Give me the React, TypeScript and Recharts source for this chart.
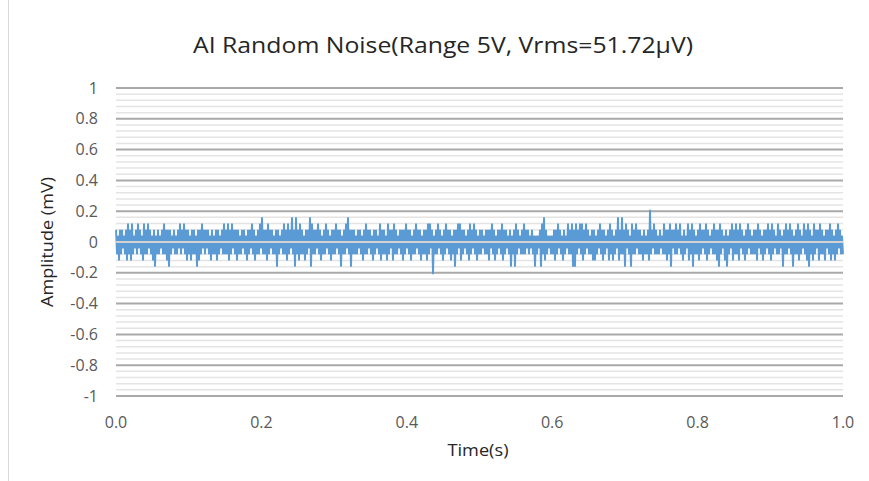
import React from 'react';
import { LineChart, Line, XAxis, YAxis, CartesianGrid, ReferenceLine } from 'recharts';

const FONT = '"Open Sans", "Noto Sans", sans-serif';

// Amplitude samples (mV) left to right
const noiseA = [
  .08,-.08,.04,-.12,.08,-.08,.08,-.04,.04,-.08,.08,-.12,.12,-.08,.08,-.12,
  .12,-.08,.04,-.04,.08,-.08,.12,-.04,.08,-.08,.04,-.12,.12,-.08,.08,-.08,
  .12,-.04,.08,-.08,.04,-.12,.08,-.16,.04,-.08,.08,-.08,.04,-.04,.08,-.08,
  .12,-.08,.08,-.12,.08,-.16,.08,-.08,.04,-.04,.08,-.08,.04,-.08,.08,-.04,
  .12,-.08,.08,-.04,.12,-.08,.08,-.12,.08,-.08,.04,-.12,.08,-.08,.08,-.08,
  .04,-.16,.08,-.12,.08,-.08,.12,-.04,.08,-.08,.08,-.04,.08,-.08,.04,-.12,
  .08,-.08,.04,-.08,.08,-.12,.08,-.08,.04,-.04,.08,-.08,.12,-.08,.08,-.08,
  .12,-.12,.08,-.08,.12,-.04,.08,-.08,.08,-.12,.08,-.08,.04,-.08,.08,-.04,
  .08,-.08,.04,-.12,.08,-.08,.08,-.04,.12,-.08,.08,-.12,.04,-.08,.08,-.08,
];
const noiseB = [
  .12,-.04,.16,-.08,.08,-.08,.08,-.12,.12,-.08,.08,-.04,.08,-.08,.04,-.08,
  .08,-.16,.08,-.08,.04,-.04,.08,-.08,.12,-.08,.08,-.12,.12,-.08,.08,-.04,
  .16,-.08,.08,-.16,.16,-.08,.08,-.12,.12,-.08,.08,-.08,.04,-.12,.08,-.08,
  .08,-.04,.16,-.16,.12,-.08,.08,-.08,.08,-.04,.12,-.08,.08,-.12,.04,-.08,
  .08,-.08,.12,-.04,.08,-.08,.04,-.12,.08,-.08,.08,-.08,.12,-.04,.08,-.08,
  .08,-.16,.04,-.08,.08,-.08,.12,-.04,.16,-.08,.08,-.16,.08,-.08,.08,-.08,
  .04,-.08,.08,-.04,.08,-.08,.04,-.12,.08,-.08,.12,-.08,.08,-.04,.08,-.08,
  .04,-.12,.08,-.08,.08,-.04,.04,-.08,.12,-.12,.08,-.08,.08,-.08,.04,-.12,
  .12,-.08,.08,-.04,.08,-.12,.12,-.08,.08,-.08,.04,-.04,.08,-.08,.08,-.12,
];
const noiseC = [
  .08,-.08,.12,-.04,.08,-.08,.08,-.12,.04,-.08,.08,-.08,.12,-.04,.08,-.08,
  .08,-.12,.04,-.08,.08,-.08,.08,-.12,.12,-.08,.12,-.04,.08,-.21,.04,-.08,
  .08,-.08,.12,-.04,.08,-.08,.04,-.12,.08,-.08,.12,-.04,.08,-.08,.08,-.12,
  .04,-.08,.08,-.16,.08,-.08,.12,-.04,.12,-.12,.08,-.08,.08,-.04,.04,-.08,
  .08,-.12,.12,-.08,.08,-.04,.12,-.08,.08,-.12,.04,-.08,.08,-.08,.08,-.04,
  .04,-.08,.08,-.08,.08,-.12,.08,-.04,.12,-.08,.08,-.12,.04,-.08,.08,-.04,
  .08,-.08,.12,-.12,.08,-.08,.08,-.04,.04,-.08,.08,-.16,.04,-.08,.08,-.16,
  .12,-.08,.08,-.04,.04,-.08,.08,-.08,.12,-.08,.08,-.04,.08,-.08,.04,-.04,
  .08,-.08,.04,-.16,.04,-.08,.04,-.04,.08,-.16,.12,-.08,.16,-.12,.08,-.08,
];
const noiseD = [
  .04,-.04,.04,-.08,.04,-.08,.08,-.12,.08,-.08,.12,-.04,.08,-.08,.04,-.12,
  .08,-.08,.04,-.04,.12,-.08,.08,-.08,.12,-.16,.08,-.16,.12,-.08,.08,-.04,
  .12,-.08,.12,-.12,.08,-.08,.12,-.04,.08,-.08,.04,-.08,.08,-.12,.08,-.12,
  .04,-.08,.08,-.04,.12,-.08,.08,-.12,.08,-.08,.04,-.04,.08,-.12,.12,-.08,
  .08,-.12,.04,-.08,.08,-.04,.16,-.12,.08,-.08,.16,-.08,.08,-.16,.12,-.04,
  .08,-.08,.04,-.16,.12,-.08,.08,-.08,.12,-.04,.08,-.08,.08,-.08,.04,-.12,
  .08,-.08,.04,-.08,.08,-.12,.21,-.08,.08,-.04,.12,-.08,.08,-.08,.04,-.08,
  .08,-.04,.04,-.08,.12,-.08,.08,-.12,.08,-.08,.12,-.16,.08,-.04,.08,-.08,
  .12,-.08,.08,-.04,.12,-.08,.04,-.12,.08,-.08,.04,-.04,.12,-.12,.08,-.08,
];
const noiseE = [
  .12,-.16,.08,-.08,.04,-.08,.08,-.12,.12,-.08,.08,-.04,.08,-.08,.12,-.12,
  .08,-.08,.04,-.04,.08,-.08,.12,-.08,.08,-.12,.08,-.16,.12,-.08,.08,-.04,
  .04,-.12,.08,-.16,.04,-.08,.08,-.04,.12,-.12,.08,-.08,.12,-.08,.08,-.12,
  .12,-.04,.08,-.08,.04,-.12,.08,-.08,.12,-.04,.08,-.08,.04,-.08,.08,-.08,
  .08,-.12,.12,-.04,.08,-.08,.04,-.12,.08,-.08,.08,-.04,.12,-.08,.08,-.12,
  .12,-.08,.08,-.04,.04,-.08,.12,-.08,.08,-.04,.04,-.16,.08,-.08,.12,-.08,
  .08,-.04,.12,-.08,.08,-.16,.04,-.08,.08,-.08,.12,-.12,.08,-.08,.04,-.04,
  .12,-.08,.08,-.12,.12,-.16,.08,-.08,.04,-.12,.12,-.08,.08,-.04,.08,-.12,
  .12,-.08,.08,-.08,.04,-.12,.08,-.04,.08,-.08,.12,-.12,.08,-.08,.04,-.12,
  .08,-.08,.12,-.04,.08,-.08,.04,-.08,
];

const xTicks = [0, 0.2, 0.4, 0.6, 0.8, 1.0];
const yMajorTicks = [1, 0.8, 0.6, 0.4, 0.2, 0, -0.2, -0.4, -0.6, -0.8, -1];
const yMinorTicks = [
  0.96, 0.92, 0.88, 0.84, 0.76, 0.72, 0.68, 0.64, 0.56, 0.52, 0.48, 0.44,
  0.36, 0.32, 0.28, 0.24, 0.16, 0.12, 0.08, 0.04, -0.04, -0.08, -0.12, -0.16,
  -0.24, -0.28, -0.32, -0.36, -0.44, -0.48, -0.52, -0.56, -0.64, -0.68, -0.72,
  -0.76, -0.84, -0.88, -0.92, -0.96,
];

const amplitude = [...noiseA, ...noiseB, ...noiseC, ...noiseD, ...noiseE];
const data = amplitude.map((v, i) => ({ t: i / (amplitude.length - 1), v }));

const W = 869;
const H = 481;

export default function App() {
  return (
    <div style={{ position: 'absolute', left: 0, top: 0, width: W, height: H, background: '#fff', fontFamily: FONT }}>
      <div style={{ position: 'absolute', left: 8, top: 0, width: 1, height: H, background: '#d9d9d9' }} />
      <LineChart
        width={W}
        height={H}
        data={data}
        margin={{ top: 88, right: 26, left: 0, bottom: 0 }}
        style={{ position: 'absolute', left: 0, top: 0 }}
      >
        <CartesianGrid vertical={false} horizontalValues={yMinorTicks} stroke="#e4e4e4" strokeWidth={1.5} />
        <CartesianGrid vertical={false} horizontalValues={yMajorTicks} stroke="#a9a9a9" strokeWidth={2} />
        <XAxis
          dataKey="t"
          type="number"
          domain={[0, 1]}
          ticks={xTicks}
          tickFormatter={(v: number) => v.toFixed(1)}
          axisLine={false}
          tickLine={false}
          tickSize={6}
          tickMargin={15}
          height={85}
          interval={0}
          tick={{ fontFamily: FONT, fontSize: 16, fill: '#595959' }}
        />
        <YAxis
          type="number"
          domain={[-1, 1]}
          ticks={yMajorTicks}
          axisLine={false}
          tickLine={false}
          tickSize={6}
          tickMargin={12}
          width={116}
          interval={0}
          tick={{ fontFamily: FONT, fontSize: 16, fill: '#595959' }}
        />
        <Line
          dataKey="v"
          type="linear"
          stroke="#5b9bd5"
          strokeWidth={1.9}
          strokeLinejoin="miter"
          dot={false}
          activeDot={false}
          isAnimationActive={false}
        />
        <ReferenceLine y={0} stroke="#d2d2d2" strokeWidth={2} />
      </LineChart>
      <svg width={W} height={H} style={{ position: 'absolute', left: 0, top: 0, pointerEvents: 'none' }}>
        <text x={443} y={53} textAnchor="middle" fontFamily={FONT} fontSize={22} fill="#262626" textLength={500} lengthAdjust="spacingAndGlyphs">
          AI Random Noise(Range 5V, Vrms=51.72µV)
        </text>
        <text transform="translate(53,242) rotate(-90)" textAnchor="middle" fontFamily={FONT} fontSize={16} fill="#262626" textLength={130} lengthAdjust="spacingAndGlyphs">
          Amplitude (mV)
        </text>
        <text x={478} y={456} textAnchor="middle" fontFamily={FONT} fontSize={16} fill="#262626" textLength={61} lengthAdjust="spacingAndGlyphs">
          Time(s)
        </text>
      </svg>
    </div>
  );
}
